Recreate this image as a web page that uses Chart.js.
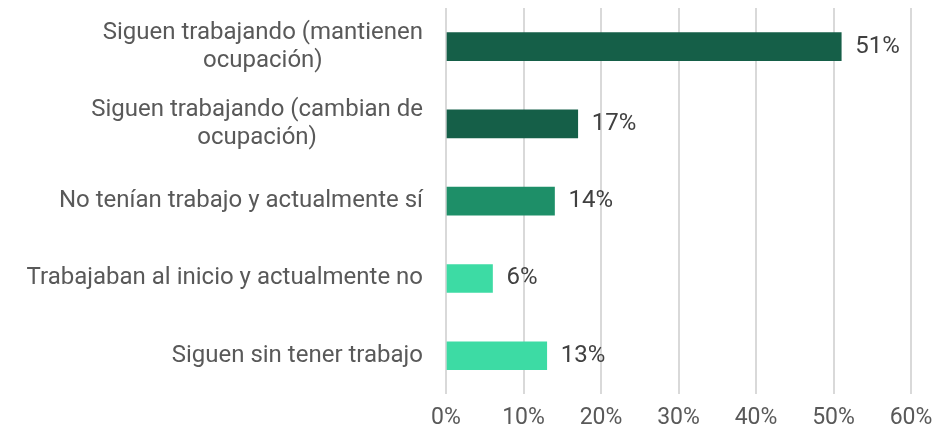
<!DOCTYPE html>
<html>
<head>
<meta charset="utf-8">
<script src="https://cdn.jsdelivr.net/npm/chart.js@4"></script>
<style>
  html, body { margin: 0; padding: 0; background: #fff; }
  #wrap { width: 951px; height: 434px; }
</style>
</head>
<body>
<div id="wrap"><canvas id="mychart" width="951" height="434"></canvas></div>
<script>
// categories (multi-line ones are arrays of lines)
var categories = [
    ["Siguen trabajando (mantienen", "ocupación)"],
    ["Siguen trabajando (cambian de", "ocupación)"],
    ["No tenían trabajo y actualmente sí"],
    ["Trabajaban al inicio y actualmente no"],
    ["Siguen sin tener trabajo"]
];
var values = [51, 17, 14, 6, 13];
var barColors = ["#155F48", "#155F48", "#1E8F68", "#3DDBA4", "#3DDBA4"];
var xTicks = [0, 10, 20, 30, 40, 50, 60];

var FONT = "Roboto, 'Noto Sans', sans-serif";

// draws the category labels: block right-aligned, lines centred inside the block
var categoryLabels = {
    id: "categoryLabels",
    afterDraw: function(chart) {
        var ctx = chart.ctx;
        var y = chart.scales.y;
        var right = chart.chartArea.left - 23;
        ctx.save();
        ctx.font = "24px " + FONT;
        ctx.fillStyle = "#595959";
        ctx.textAlign = "center";
        ctx.textBaseline = "middle";
        categories.forEach(function(lines, i) {
            var w = 0;
            lines.forEach(function(l) { w = Math.max(w, ctx.measureText(l).width); });
            var cx = right - w / 2;
            var cy = y.getPixelForValue(i);
            var lh = 28;
            var top = cy - (lines.length - 1) * lh / 2;
            lines.forEach(function(l, j) {
                ctx.fillText(l, cx, top + j * lh);
            });
        });
        ctx.restore();
    }
};

// value labels at the end of each bar
var valueLabels = {
    id: "valueLabels",
    afterDatasetsDraw: function(chart) {
        var ctx = chart.ctx;
        var meta = chart.getDatasetMeta(0);
        ctx.save();
        ctx.font = "24px " + FONT;
        ctx.fillStyle = "#404040";
        ctx.textAlign = "left";
        ctx.textBaseline = "middle";
        meta.data.forEach(function(bar, i) {
            ctx.fillText(values[i] + "%", bar.x + 14, bar.y);
        });
        ctx.restore();
    }
};

window.addEventListener("load", function() {
    var canvas = document.getElementById("mychart").getContext("2d");
    new Chart(canvas, {
        type: "bar",
        data: {
            labels: categories.map(function(c) { return c.join(" "); }),
            datasets: [{
                data: values,
                backgroundColor: barColors,
                barThickness: 28
            }]
        },
        options: {
            indexAxis: "y",
            responsive: false,
            animation: false,
            layout: { padding: { left: 438, top: 8, right: 40, bottom: -8 } },
            plugins: { legend: { display: false }, tooltip: { enabled: false } },
            scales: {
                x: {
                    min: 0,
                    max: 60,
                    afterBuildTicks: function(scale) {
                        scale.ticks = xTicks.map(function(v) { return { value: v }; });
                    },
                    grid: { color: "#d9d9d9", lineWidth: 2, drawTicks: false },
                    border: { display: false },
                    ticks: {
                        padding: 10,
                        color: "#595959",
                        font: { family: FONT, size: 23 },
                        callback: function(v) { return v + "%"; }
                    }
                },
                y: {
                    grid: { display: false },
                    border: { display: false },
                    ticks: { display: false }
                }
            }
        },
        plugins: [categoryLabels, valueLabels]
    });
});
</script>
</body>
</html>
